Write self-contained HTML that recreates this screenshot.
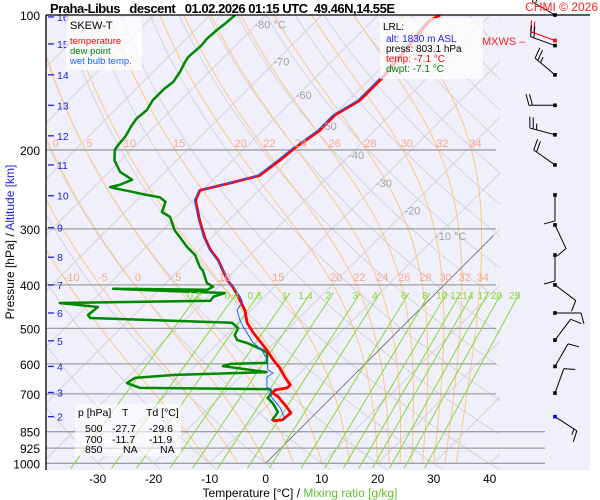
<!DOCTYPE html>
<html><head><meta charset="utf-8"><style>
body{margin:0;background:#fff;}
svg{display:block;font-family:"Liberation Sans",sans-serif;}
</style></head><body>
<svg id="c" width="600" height="500" viewBox="0 0 600 500">
<defs><clipPath id="pc"><rect x="46" y="15" width="454" height="455"/></clipPath>
<clipPath id="pc2"><rect x="46" y="15" width="500" height="455"/></clipPath></defs>
<rect x="46" y="15" width="544" height="455" fill="#f0f0fc"/>
<g id="grid" clip-path="url(#pc)"></g>
<g id="isobars"></g>
<g id="mix" clip-path="url(#pc2)"></g>
<g id="series" clip-path="url(#pc2)"></g>
<g id="barbs"></g>
<g id="labels"></g>
<line x1="46" y1="15" x2="590" y2="15" stroke="#000" stroke-width="1.3"/>
<line x1="46" y1="15" x2="46" y2="470" stroke="#000" stroke-width="1.3"/>
<text x="50" y="13" font-size="13" font-weight="bold" xml:space="preserve" textLength="345" lengthAdjust="spacing">Praha-Libus   descent   01.02.2026 01:15 UTC  49.46N,14.55E</text>
<text x="598" y="11" font-size="12" fill="#ff2020" text-anchor="end">CHMI © 2026</text>
<text transform="translate(14,242) rotate(-90)" font-size="12" text-anchor="middle">Pressure [hPa]  /  <tspan fill="#2020e0">Altitude [km]</tspan></text>
<text x="300" y="497" font-size="12" text-anchor="middle">Temperature [°C]  /  <tspan fill="#60c030">Mixing ratio [g/kg]</tspan></text>
<g>
<rect x="66" y="17" width="76" height="53" fill="#fff" opacity="0.7"/>
<text x="70" y="29" font-size="11">SKEW-T</text>
<text x="70" y="44" font-size="9.5" fill="#ff0000">temperature</text>
<text x="70" y="54" font-size="9.5" fill="#008000">dew point</text>
<text x="70" y="64" font-size="9.5" fill="#2060ff">wet bulb temp.</text>
</g>
<g>
<rect x="380" y="18" width="103" height="61" fill="#fff" opacity="0.75"/>
<text x="383" y="30" font-size="10">LRL:</text>
<text x="386" y="42" font-size="10" fill="#2020e0">alt: 1830 m ASL</text>
<text x="386" y="52" font-size="10">press: 803.1 hPa</text>
<text x="386" y="62" font-size="10" fill="#ff0000">temp: -7.1 °C</text>
<text x="386" y="72" font-size="10" fill="#008000">dwpt: -7.1 °C</text>
</g>
<g font-size="10.5">
<rect x="75" y="404" width="106" height="52" fill="#fff" opacity="0.6"/>
<text x="78" y="416">p [hPa]</text><text x="122" y="416">T</text><text x="146" y="416">Td [°C]</text>
<text x="85" y="432">500</text><text x="112" y="432">-27.7</text><text x="149" y="432">-29.6</text>
<text x="85" y="443">700</text><text x="112" y="443">-11.7</text><text x="149" y="443">-11.9</text>
<text x="85" y="453">850</text><text x="123" y="453">NA</text><text x="160" y="453">NA</text>
</g>
<text x="482" y="45" font-size="11" fill="#ff2020">MXWS –</text>
</svg>
<script>
const tempP=[804,800,772,749,711,697,686,679,669,642,613,588,559,510,486,455,432,406,390,352,334,313,287,259,246,237,228,211,198,181,167,155,136,117,103,100];
const tempT=[-6.3,-4.8,-4.5,-6.3,-9.6,-11.3,-11.4,-9.6,-9.6,-12.0,-14.5,-17.1,-20.0,-25.7,-28.4,-31.1,-33.8,-37.1,-39.6,-44.8,-48.0,-51.3,-55.2,-59.5,-60.5,-56.4,-52.5,-51.6,-51.1,-49.8,-49.8,-48.0,-48.0,-48.9,-49.8,-48.9];
const dewP=[804,768,734,715,697,683,679,662,645,635,626,607,600,597,567,559,539,531,518,499,486,474,467,448,439,437,434,425,417,413,408,410,404,396,386,371,365,343,329,313,302,282,275,261,255,252,243,242,239,233,224,211,200,195,187,176,170,163,155,146,141,134,127,124,117,113,108,104,100];
const dewT=[-6.5,-7.0,-9.5,-11.3,-11.4,-12.5,-35.9,-39.1,-38.6,-32.0,-16.1,-25.0,-24.1,-17.7,-19.5,-20.7,-24.8,-27.1,-28.4,-29.1,-31.1,-57.3,-58.2,-57.9,-65.4,-55.2,-38.9,-39.1,-37.7,-47.5,-58.4,-41.4,-40.9,-42.7,-43.9,-45.7,-46.8,-49.8,-52.7,-55.7,-57.9,-61.1,-63.4,-64.6,-66.4,-69.1,-76.4,-77.1,-75.7,-74.5,-78.0,-81.1,-82.9,-83.2,-83.4,-84.3,-84.6,-84.3,-85.0,-85.0,-84.6,-85.2,-86.1,-86.4,-86.1,-86.3,-86.1,-85.7,-85.5];
const wbP=[800,752,715,697,686,676,642,629,619,588,559,537,496,479,455,437,425,410,396,371,352,334,313,287,259,246,237,228,211,198,181,167,155,136,117,103];
const wbT=[-4.3,-7.3,-10.5,-11.8,-12.0,-13.4,-15.2,-14.8,-16.3,-18.2,-20.9,-23.9,-28.4,-30.2,-32.5,-32.9,-34.3,-36.4,-38.6,-42.1,-45.0,-48.2,-51.5,-55.4,-59.7,-60.7,-56.8,-52.9,-52.0,-51.5,-50.2,-50.2,-48.4,-48.4,-49.3,-50.2];
const isobarLevels=[200,300,400,500,600,700,850,925,1000];
const isothermVals=[-130,-120,-110,-100,-90,-80,-70,-60,-50,-40,-30,-20,-10,0,10,20,30,40];
const isothermLabels=["-80 °C","-70","-60","-50","-40","-30","-20","-10 °C"];
const isothermLabelVals=[-80,-70,-60,-50,-40,-30,-20,-10];
const isoLabP=[105,127,151,177,205,237,273,311];
const dryTheta=[-40,-30,-20,-10,0,10,20,30,40,50,60,70,80,90,100,110,120,130,140,150,160,170,180,190,200];
const moistThetaW=[-10,-5,0,5,10,15,20,22,24,26,28,30,32,34];
const moistLabels200=[0,5,10,15,20,22,24,26,28,30,32,34];
const mixVals=[0.2,0.4,0.6,1,1.4,2,3,4,6,8,10,12,14,17,20,25];
const xTicks=[-30,-20,-10,0,10,20,30,40];
const altKm=[16,15,14,13,12,11,10,9,8,7,6,5,4,3,2];
const altP=[101,116,136,159,186,216,253,298,347,400,462,533,608,695,787];
const barbP=[100,114,117,136,159,185,216,252,294,343,400,462,531,608,697,787];
const barbDir=[300,290,290,310,270,285,305,180,155,180,127,90,37,30,20,123];
const barbSpd=[15,20,20,25,20,25,20,10,10,10,10,10,10,10,10,15];

const NS="http://www.w3.org/2000/svg";
function yP(p){return 15+194.7*Math.log(p/100);}
function xT(t,p){return 264+5.6*t+(465-yP(p));}
function mk(tag,attrs,parent){const e=document.createElementNS(NS,tag);for(const k in attrs)e.setAttribute(k,attrs[k]);parent.appendChild(e);return e;}
function txt(x,y,s,attrs,parent){const e=mk('text',Object.assign({x:x,y:y},attrs),parent);e.textContent=s;return e;}
const G=id=>document.getElementById(id);
const grid=G('grid'),iso=G('isobars'),mix=G('mix'),ser=G('series'),barbs=G('barbs'),lab=G('labels');

isothermVals.forEach(t=>{
 const l=mk('line',{x1:xT(t,1000),y1:yP(1000),x2:xT(t,100),y2:yP(100),stroke:'#d4d4dc','stroke-width':1},grid);
 
 
});
dryTheta.forEach(th=>{
 let d='';
 for(let p=1050;p>=100;p-=10){const t=(th+273.15)*Math.pow(p/1000,0.286)-273.15;d+=(d?'L':'M')+xT(t,p).toFixed(1)+','+yP(p).toFixed(1);}
 const e=mk('path',{d:d,fill:'none',stroke:'#d4d4dc','stroke-width':1},grid);
 
 
});
function es(T){return 6.112*Math.exp(17.67*T/(T+243.5));}
function moist(tw){
 const pts=[];let T=tw;let p=1000;pts.push([p,T]);
 for(let k=0;k<450;k++){
  const Tk=T+273.15;const e=es(T);const rs=0.622*e/(p-e);
  const dTdp=(287*Tk+2.5e6*rs)/(p*(1004+2.5e6*2.5e6*rs*0.622/(287*Tk*Tk)));
  p-=2;T-=dTdp*2;pts.push([p,T]);
  if(p<=100)break;
 }
 return pts;
}
const moistPts={};
moistThetaW.forEach(tw=>{
 const pts=moist(tw);moistPts[tw]=pts;
 let d='';pts.forEach(q=>{d+=(d?'L':'M')+xT(q[1],q[0]).toFixed(1)+','+yP(q[0]).toFixed(1);});
 const e=mk('path',{d:d,fill:'none',stroke:'#ffc880','stroke-width':1},grid);
 
 
});
function moistAt(tw,p){const pts=moistPts[tw];let best=pts[0];pts.forEach(q=>{if(Math.abs(q[0]-p)<Math.abs(best[0]-p))best=q;});return best[1];}
moistThetaW.forEach(tw=>{
 const t=txt(xT(moistAt(tw,400),400)+3,281,String(tw),{'font-size':11,fill:'#f8a888','text-anchor':'middle'},lab);
 
 
});
moistLabels200.forEach(tw=>{
 const t=txt(xT(moistAt(tw,200),200)+4,147,String(tw),{'font-size':11,fill:'#f8a888','text-anchor':'middle'},lab);
 
 
});
{const l=mk('line',{x1:xT(0,1000),y1:yP(1000),x2:xT(0,310),y2:yP(310),stroke:'#707078','stroke-width':0.8},grid);
 
 }
isothermLabelVals.forEach((t,i)=>{
 const p=isoLabP[i];
 const e=txt(xT(t,p)-2,yP(p)+4,isothermLabels[i],{'font-size':11,fill:'#a0a0a0'},lab);
 
 
});
isobarLevels.forEach(p=>{
 const y=yP(p);const x2=p>=850?545:496;
 const l=mk('line',{x1:46,y1:y,x2:x2,y2:y,stroke:'#a0a0a0','stroke-width':1.3},iso);
 
 
});
[100].concat(isobarLevels).forEach(p=>{
 const e=txt(40,yP(p)+5,String(p),{'font-size':12,'text-anchor':'end'},lab);
 
 
});
function tdFromW(w,p){const e=w*p/(622+w);const l=Math.log(e/6.112);return 243.5*l/(17.67-l);}
mixVals.forEach(w=>{
 const l=mk('line',{x1:xT(tdFromW(w,1000),1000),y1:yP(1000)+5,x2:xT(tdFromW(w,400),400),y2:yP(400)+8,stroke:'#88d838','stroke-width':1},mix);
 
 
 const t=txt(xT(tdFromW(w,400),400)-5,299,String(w),{'font-size':10.5,fill:'#88d838','text-anchor':'middle'},lab);
 
 
});
xTicks.forEach(t=>{
 const e=txt(xT(t,1000),483,String(t),{'font-size':12,'text-anchor':'middle'},lab);
 
 
});
altKm.forEach((k,i)=>{
 const y=yP(altP[i]);
 const l=mk('line',{x1:48,y1:y,x2:54,y2:y,stroke:'#2020e0','stroke-width':1.3},lab);
 
 
 const e=txt(57,y+4,String(k),{'font-size':10.5,fill:'#2020e0'},lab);
 
 
});
function line(P,T,color,w,name){
 let d='';P.forEach((p,i)=>{d+=(d?'L':'M')+xT(T[i],p).toFixed(1)+','+yP(p).toFixed(1);});
 const e=mk('path',{d:d,fill:'none',stroke:color,'stroke-width':w,'stroke-linejoin':'round'},ser);
 
 
}
line(dewP,dewT,'#008800',2.5,'dew-point-line');
line(tempP,tempT,'#ff0000',2.8,'temperature-line');
line(wbP,wbT,'#2060ff',1,'wet-bulb-line');
barbP.forEach((p,i)=>{
 const y=yP(p),x=555;const a=barbDir[i]*Math.PI/180;
 const dx=Math.sin(a),dy=-Math.cos(a);const L=26;
 const ex=x+dx*L,ey=y+dy*L;
 const col=(i===1)?'#ff0000':'#000';
 const g=mk('g',{},barbs);
 
 
 mk('line',{x1:x,y1:y,x2:ex,y2:ey,stroke:col,'stroke-width':1},g);
 const n=Math.floor(barbSpd[i]/10),half=(barbSpd[i]%10)>=5;
 const px=-dy,py=dx;let pos=0;
 for(let k=0;k<n;k++){const bx=ex-dx*pos,by=ey-dy*pos;mk('line',{x1:bx,y1:by,x2:bx+px*11+dx*3,y2:by+py*11+dy*3,stroke:col,'stroke-width':1},g);pos+=3.5;}
 if(half){const bx=ex-dx*pos,by=ey-dy*pos;mk('line',{x1:bx,y1:by,x2:bx+px*6+dx*1.5,y2:by+py*6+dy*1.5,stroke:col,'stroke-width':1},g);}
 mk('rect',{x:x-1.8,y:y-1.8,width:3.6,height:3.6,fill:i===15?'#0000ff':col},g);
});
</script>
</body></html>
